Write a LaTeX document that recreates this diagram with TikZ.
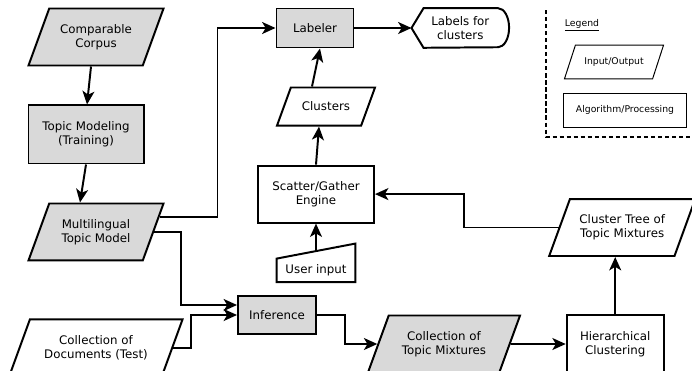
\documentclass[tikz,border=0pt]{standalone}
\usepackage{fontspec}
\setmainfont{DejaVu Sans}
\usepackage{tikz}
\usetikzlibrary{shapes.geometric, arrows.meta, positioning, calc}
\definecolor{boxgray}{RGB}{217, 217, 217}

\begin{document}
\begin{tikzpicture}[
    x=0.025cm, y=-0.025cm,
    process/.style={rectangle, draw=black, line width=1.4pt, text centered, align=center, font=\fontsize{8.4}{10}\selectfont},
    io/.style={trapezium, trapezium left angle=70, trapezium right angle=110, trapezium stretches body, inner ysep=11.2pt, draw=black, line width=1.4pt, text centered, align=center, font=\fontsize{8.4}{10}\selectfont},
    shaded/.style={fill=boxgray},
    legendio/.style={trapezium, trapezium left angle=72, trapezium right angle=108, trapezium stretches body, inner ysep=8.8pt, draw=black, line width=0.7pt, font=\fontsize{6.6}{8}\selectfont},
    legendbox/.style={rectangle, draw=black, line width=0.7pt, font=\fontsize{6.6}{8}\selectfont},
    arrow/.style={line width=1.4pt, ->, >={Stealth[length=9.5pt, width=8.5pt, inset=2.5pt]}}
]
\useasboundingbox (0,0) rectangle (692,370);

% left column
\node (corpus) [io, shaded, minimum width=3.375cm] at (96,37) {Comparable\\Corpus};
\node (training) [process, shaded, minimum width=2.875cm, minimum height=1.45cm, below=0.95cm of corpus, xshift=-0.25cm] {Topic Modeling\\(Training)};
\node (mtm) [io, shaded, minimum width=3.375cm, below=0.95cm of training, xshift=0.25cm] {Multilingual\\Topic Model};
\node (docs) [io, minimum width=4.325cm, below=1.425cm of mtm] {Collection of\\Documents (Test)};

% middle column
\node (labeler) [process, shaded, minimum width=1.925cm, minimum height=0.975cm] at (315,28) {Labeler};
\node (labels) [minimum width=2.425cm, minimum height=0.975cm, align=center, font=\fontsize{8.4}{10}\selectfont, right=1.425cm of labeler] {Labels for\\clusters};
\draw [line width=1.4pt] (labels.west) -- ([xshift=0.3cm]labels.north west) -- ([xshift=-0.275cm]labels.north east)
    arc[start angle=90, end angle=-90, x radius=0.275cm, y radius=0.4875cm] -- ([xshift=0.3cm]labels.south west) -- cycle;
\node (clusters) [io, inner ysep=10.3pt, minimum width=2.45cm, below=0.95cm of labeler, xshift=0.275cm] {Clusters};
\node (engine) [process, minimum width=2.9cm, minimum height=1.425cm, below=0.95cm of clusters, xshift=-0.25cm] {Scatter/Gather\\Engine};
\node (userin) [minimum width=1.95cm, inner ysep=0pt, text height=0.75cm, text depth=0.2cm, font=\fontsize{8.4}{10}\selectfont, below=0.5cm of engine] {User input};
\draw [line width=1.4pt] (userin.south west) -- ([yshift=-0.375cm]userin.north west) -- (userin.north east) -- (userin.south east) -- cycle;
\node (inference) [process, shaded, minimum width=1.95cm, minimum height=0.95cm] at (277,315) {Inference};

% bottom row and right column
\node (mixtures) [io, shaded, minimum width=3.8cm] at (444,344) {Collection of\\Topic Mixtures};
\node (hier) [process, minimum width=2.425cm, minimum height=1.45cm, right=1.375cm of mixtures] {Hierarchical\\Clustering};
\node (tree) [io, minimum width=3.65cm, above=1.425cm of hier, xshift=0.175cm] {Cluster Tree of\\Topic Mixtures};

% legend
\draw [line width=1.4pt, dash pattern=on 3pt off 2pt] (546,10) -- (546,137) -- (692,137);
\node (legendtitle) [font=\fontsize{6.6}{8}\selectfont, inner sep=1pt] at (582,25) {\underline{Legend}};
\node (legio) [legendio, minimum width=2.475cm] at (614,62) {Input/Output};
\node (legproc) [legendbox, minimum width=3.075cm, minimum height=0.85cm] at (625,110) {Algorithm/Processing};

% connectors
\draw [arrow] ([xshift=-0.125cm]corpus.south) -- ([xshift=0.025cm]training.north);
\draw [arrow] (training.south) -- ([xshift=-0.4cm]mtm.north);
\draw [arrow] ($(mtm.bottom right corner)!0.75!(mtm.top right corner)$) -| ([xshift=-1.45cm]labeler.west) -- (labeler.west);
\draw [arrow] (mtm.east) -| ([xshift=-1.4cm, yshift=0.25cm]inference.west) -- ([yshift=0.25cm]inference.west);
\draw [arrow] (docs.east) -| ([xshift=-1.15cm]inference.west) -- (inference.west);
\draw [arrow] (inference.east) -| ([xshift=-0.8cm]mixtures.west) -- (mixtures.west);
\draw [arrow] (mixtures) -- (hier);
\draw [arrow] (hier.north) -- (hier.north |- tree.south);
\draw [arrow] (tree.west) -| ([xshift=2.225cm]engine.east) -- (engine.east);
\draw [arrow] ([yshift=-0.19cm]userin.north) -- (engine);
\draw [arrow] (engine.north) -- ([xshift=-0.175cm]clusters.south);
\draw [arrow] ([xshift=-0.35cm]clusters.north) -- ([xshift=0.125cm]labeler.south);
\draw [arrow] (labeler) -- (labels);

\end{tikzpicture}
\end{document}
